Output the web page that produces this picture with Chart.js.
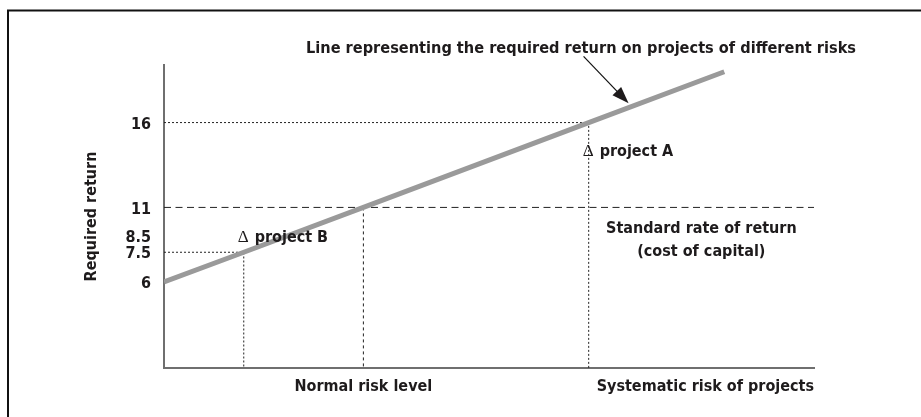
<!DOCTYPE html>
<html>
<head>
<meta charset="utf-8">
<script src="https://cdn.jsdelivr.net/npm/chart.js@4/dist/chart.umd.min.js"></script>
<style>
  html, body { margin: 0; padding: 0; background: #fff; }
  #riskChart { display: block; }
</style>
</head>
<body>
<canvas id="riskChart" width="921" height="417"></canvas>
<script>
// line of required return against systematic risk (schematic units)
const riskLevels = [0, 0.4, 1.0, 2.13, 2.81];
const requiredReturn = [6, 7.5, 11, 16, 19];

const projectNames = ['project B', 'project A'];
const projectRisk = [0.4, 2.13];
const projectReturn = [7.5, 16];

const normalRisk = 1.0;
const costOfCapital = 11;

const yTickValues = [6, 7.5, 8.5, 11, 16];
const yTickLabels = ['6', '7.5', '8.5', '11', '16'];

const X_MAX = 3.26;
const Y_MAX = 19.4;

// the original axis is not to scale: value -> share of axis height
const Y_KNOTS = [[0, 0], [6, 0.284], [7.5, 0.382], [8.5, 0.436], [11, 0.530], [16, 0.810], [Y_MAX, 1]];

const FONT = '"DejaVu Sans Condensed", "Liberation Sans", Arial, sans-serif';
const INK = '#1e1b1c';

function knotDecimal(v) {
    for (let i = 1; i < Y_KNOTS.length; i++) {
        const [v0, d0] = Y_KNOTS[i - 1];
        const [v1, d1] = Y_KNOTS[i];
        if (v <= v1 || i === Y_KNOTS.length - 1) {
            return d0 + (v - v0) / (v1 - v0) * (d1 - d0);
        }
    }
    return 0;
}

function knotValue(d) {
    for (let i = 1; i < Y_KNOTS.length; i++) {
        const [v0, d0] = Y_KNOTS[i - 1];
        const [v1, d1] = Y_KNOTS[i];
        if (d <= d1 || i === Y_KNOTS.length - 1) {
            return v0 + (d - d0) / (d1 - d0) * (v1 - v0);
        }
    }
    return 0;
}

class KnotScale extends Chart.LinearScale {
    getPixelForValue(value) {
        if (value === null || value === undefined) return NaN;
        return this.getPixelForDecimal(knotDecimal(value));
    }
    getValueForPixel(pixel) {
        return knotValue(this.getDecimalForPixel(pixel));
    }
}
KnotScale.id = 'knots';
Chart.register(KnotScale);

const lineData = riskLevels.map((x, i) => ({ x: x, y: requiredReturn[i] }));

function guide(risk, ret) {
    return [{ x: 0, y: ret }, { x: risk, y: ret }, { x: risk, y: 0 }];
}

const dotted = { borderColor: '#222', borderWidth: 1, borderDash: [2, 2], pointRadius: 0, fill: false };

const labelsPlugin = {
    id: 'labels',
    beforeDraw(chart) {
        const ctx = chart.ctx;
        ctx.save();
        ctx.fillStyle = '#fff';
        ctx.fillRect(0, 0, chart.width, chart.height);
        ctx.strokeStyle = '#111';
        ctx.lineWidth = 2;
        ctx.strokeRect(8, 10.5, chart.width + 20, chart.height + 20);
        ctx.restore();
    },
    afterDraw(chart) {
        const ctx = chart.ctx;
        const xs = chart.scales.x;
        const ys = chart.scales.y;
        ctx.save();
        ctx.fillStyle = INK;
        ctx.textBaseline = 'alphabetic';

        // heading
        ctx.font = 'bold 16.2px ' + FONT;
        ctx.textAlign = 'left';
        ctx.fillText('Line representing the required return on projects of different risks', 306, 53);

        // arrow pointing at the line
        const tipX = xs.getPixelForValue(2.33);
        const tipY = ys.getPixelForValue(16.9) - 4;
        const tailX = tipX - 45, tailY = tipY - 47;
        const ang = Math.atan2(tipY - tailY, tipX - tailX);
        ctx.strokeStyle = '#111';
        ctx.lineWidth = 1.2;
        ctx.beginPath();
        ctx.moveTo(tailX, tailY);
        ctx.lineTo(tipX - 10 * Math.cos(ang), tipY - 10 * Math.sin(ang));
        ctx.stroke();
        ctx.beginPath();
        ctx.moveTo(tipX, tipY);
        ctx.lineTo(tipX - 17 * Math.cos(ang) + 6 * Math.sin(ang), tipY - 17 * Math.sin(ang) - 6 * Math.cos(ang));
        ctx.lineTo(tipX - 17 * Math.cos(ang) - 6 * Math.sin(ang), tipY - 17 * Math.sin(ang) + 6 * Math.cos(ang));
        ctx.closePath();
        ctx.fill();

        // project labels
        const offsets = [-10, 33];
        projectNames.forEach((name, i) => {
            const x = xs.getPixelForValue(projectRisk[i]) - 6;
            const y = ys.getPixelForValue(projectReturn[i]) + offsets[i];
            ctx.font = '17px "Liberation Serif", serif';
            ctx.fillText('\u0394', x, y);
            const w = ctx.measureText('\u0394').width;
            ctx.font = 'bold 16px ' + FONT;
            ctx.fillText(name, x + w + 6, y);
        });

        // cost of capital label
        const cx = (xs.getPixelForValue(projectRisk[1]) + xs.right) / 2;
        const cy = ys.getPixelForValue(costOfCapital);
        ctx.font = 'bold 16px ' + FONT;
        ctx.textAlign = 'center';
        ctx.fillText('Standard rate of return', cx, cy + 26);
        ctx.fillText('(cost of capital)', cx, cy + 49);
        ctx.restore();
    }
};

new Chart(document.getElementById('riskChart').getContext('2d'), {
    type: 'line',
    data: {
        datasets: [
            {
                label: 'Required return',
                data: lineData,
                borderColor: '#9a9a9a',
                borderWidth: 5,
                pointRadius: 0,
                fill: false
            },
            Object.assign({ label: 'Project A', data: guide(projectRisk[1], projectReturn[1]) }, dotted),
            Object.assign({ label: 'Project B', data: guide(projectRisk[0], projectReturn[0]) }, dotted),
            {
                label: 'Cost of capital',
                data: [{ x: 0, y: costOfCapital }, { x: X_MAX, y: costOfCapital }],
                borderColor: '#222',
                borderWidth: 1,
                borderDash: [7, 4.5],
                pointRadius: 0,
                fill: false
            },
            {
                label: 'Normal risk',
                data: [{ x: normalRisk, y: costOfCapital }, { x: normalRisk, y: 0 }],
                borderColor: '#222',
                borderWidth: 1,
                borderDash: [3, 3],
                pointRadius: 0,
                fill: false
            }
        ]
    },
    options: {
        responsive: false,
        animation: false,
        events: [],
        layout: { padding: { top: 65, right: 107, bottom: 0, left: 0 } },
        plugins: {
            legend: { display: false },
            tooltip: { enabled: false }
        },
        scales: {
            x: {
                type: 'linear',
                min: 0,
                max: X_MAX,
                grid: { display: false, drawTicks: false },
                border: { color: '#6f6f6f', width: 2 },
                afterFit: s => { s.height = 49; },
                afterBuildTicks: s => { s.ticks = [{ value: normalRisk }]; },
                ticks: {
                    autoSkip: false,
                    maxRotation: 0,
                    padding: 9,
                    color: INK,
                    font: { family: FONT, size: 16, weight: 'bold' },
                    callback: () => 'Normal risk level'
                },
                title: {
                    display: true,
                    text: 'Systematic risk of projects',
                    align: 'end',
                    color: INK,
                    font: { family: FONT, size: 16, weight: 'bold' },
                    padding: { top: 0, bottom: 20.4 }
                }
            },
            y: {
                type: 'knots',
                min: 0,
                max: Y_MAX,
                grid: { display: false, drawTicks: false },
                border: { color: '#6f6f6f', width: 2 },
                afterFit: s => { s.width = 164; },
                afterBuildTicks: s => { s.ticks = yTickValues.map(v => ({ value: v })); },
                ticks: {
                    autoSkip: false,
                    padding: 13,
                    labelOffset: 2,
                    color: INK,
                    font: { family: FONT, size: 16, weight: 'bold' },
                    callback: (v, i) => yTickLabels[i]
                },
                title: {
                    display: true,
                    text: 'Required return',
                    color: INK,
                    font: { family: FONT, size: 16, weight: 'bold' },
                    padding: { top: 82.4, bottom: 0 }
                }
            }
        }
    },
    plugins: [labelsPlugin]
});
</script>
</body>
</html>
